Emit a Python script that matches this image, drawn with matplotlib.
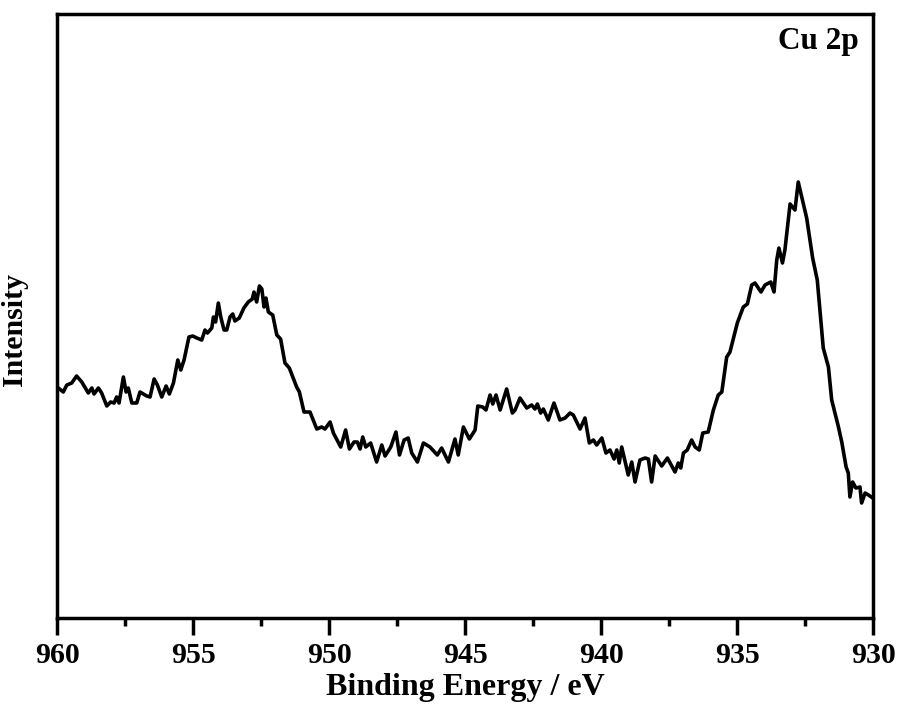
import matplotlib
matplotlib.use("Agg")
from matplotlib import pyplot as plt
from matplotlib.ticker import MultipleLocator

# Cu 2p XPS spectrum (binding energy in eV, intensity in arbitrary units)
energy = [
    959.95, 959.77, 959.64, 959.46, 959.28, 959.09, 958.85, 958.72, 958.64, 958.48,
    958.36, 958.17, 958.03, 957.90, 957.81, 957.72, 957.56, 957.46, 957.38, 957.25,
    957.07, 956.95, 956.70, 956.58, 956.43, 956.31, 956.15, 955.99, 955.87, 955.72,
    955.56, 955.45, 955.33, 955.15, 955.01, 954.86, 954.68, 954.56, 954.47, 954.31,
    954.25, 954.17, 954.07, 953.98, 953.86, 953.76, 953.64, 953.54, 953.46, 953.30,
    953.13, 952.97, 952.82, 952.76, 952.66, 952.56, 952.47, 952.39, 952.32, 952.23,
    952.07, 951.92, 951.78, 951.62, 951.46, 951.19, 951.09,
    950.92, 950.70, 950.45, 950.27, 950.15, 949.96, 949.84, 949.57, 949.39, 949.25,
    949.08, 948.96, 948.86, 948.76, 948.65, 948.47, 948.25, 948.06, 947.94, 947.73,
    947.54, 947.41, 947.24, 947.09, 946.96, 946.75, 946.53, 946.29, 946.02, 945.86,
    945.61, 945.37, 945.25, 945.06, 944.84, 944.63, 944.53, 944.35, 944.23, 944.08,
    943.98, 943.86, 943.71, 943.47, 943.26, 943.16, 942.98, 942.73, 942.55, 942.43,
    942.34, 942.22, 942.12, 941.94, 941.73, 941.51, 941.32, 941.14, 941.02, 940.77,
    940.59, 940.43, 940.28, 940.16, 939.97, 939.82, 939.67, 939.52, 939.42, 939.33,
    939.24, 939.00, 938.87, 938.75, 938.57, 938.38, 938.26,
    938.14, 938.01, 937.77, 937.56, 937.28, 937.16, 937.07, 936.97, 936.83, 936.67,
    936.54, 936.39, 936.26, 936.06, 935.87, 935.69, 935.56, 935.38, 935.26, 934.99,
    934.77, 934.62, 934.46, 934.34, 934.12, 933.97, 933.76, 933.64, 933.54, 933.46,
    933.33, 933.24, 933.05, 932.87, 932.75, 932.44, 932.22, 932.05, 931.83, 931.64,
    931.52, 931.28, 931.15, 930.99, 930.91, 930.85, 930.75, 930.63, 930.48, 930.42,
    930.29, 930.17, 930.01,
]
intensity = [
    230, 226, 233, 235, 242, 236, 225, 230, 224, 230,
    225, 212, 216, 215, 221, 215, 241, 226, 230, 215,
    215, 226, 222, 221, 239, 233, 221, 232, 224, 235,
    258, 248, 258, 281, 282, 280, 278, 288, 285, 290,
    301, 296, 315, 301, 288, 288, 301, 304, 297, 300,
    310, 316, 319, 326, 316, 332, 329, 311, 320, 306,
    303, 283, 279, 255, 250, 231, 226,
    206, 206, 189, 191, 189, 196, 185, 171, 188, 169,
    176, 176, 169, 181, 171, 175, 156, 173, 162, 171,
    186, 163, 178, 180, 165, 156, 175, 171, 163, 170,
    156, 179, 163, 191, 179, 188, 212, 211, 208, 223,
    214, 223, 208, 229, 205, 208, 220, 210, 213, 209,
    214, 205, 209, 198, 215, 198, 200, 205, 203, 189,
    200, 175, 178, 173, 180, 165, 168, 159, 168, 155,
    171, 143, 156, 136, 158, 160, 159,
    136, 162, 152, 160, 146, 155, 150, 165, 168, 178,
    171, 168, 185, 186, 208, 223, 226, 261, 266, 295,
    311, 314, 333, 335, 326, 333, 336, 326, 358, 370,
    355, 368, 414, 408, 436, 400, 360, 338, 270, 251,
    218, 192, 176, 151, 145, 121, 136, 130, 131, 115,
    125, 123, 120,
]

plt.rcParams['font.family'] = ['Liberation Serif', 'DejaVu Serif']
plt.rcParams['font.weight'] = 'bold'

fig = plt.figure(figsize=(8.98, 7.11), dpi=100)
ax = fig.add_axes([0.0635, 0.1308, 0.9087, 0.8495])

ax.plot(energy, intensity, color='black', lw=2.6)

ax.set_xlim(960, 930)
ax.set_ylim(0, 604)
ax.xaxis.set_major_locator(MultipleLocator(5))
ax.xaxis.set_minor_locator(MultipleLocator(2.5))
ax.tick_params(axis='x', which='major', direction='out', length=12, width=2.5,
               labelsize=21.5, pad=5)
ax.tick_params(axis='x', which='minor', direction='out', length=6, width=2.5)
ax.set_yticks([])
for lbl in ax.get_xticklabels():
    lbl.set_fontweight('bold')
for sp in ax.spines.values():
    sp.set_linewidth(2.5)

ax.set_xlabel('Binding Energy / eV', fontsize=23, fontweight='bold', labelpad=3)
ax.set_ylabel('Intensity', fontsize=21.5, fontweight='bold')
ax.yaxis.set_label_coords(-0.035, 0.477)

ax.text(0.983, 0.978, 'Cu 2p', transform=ax.transAxes, ha='right', va='top',
        fontsize=22.5, fontweight='bold')

plt.savefig('out.png', dpi=100)
